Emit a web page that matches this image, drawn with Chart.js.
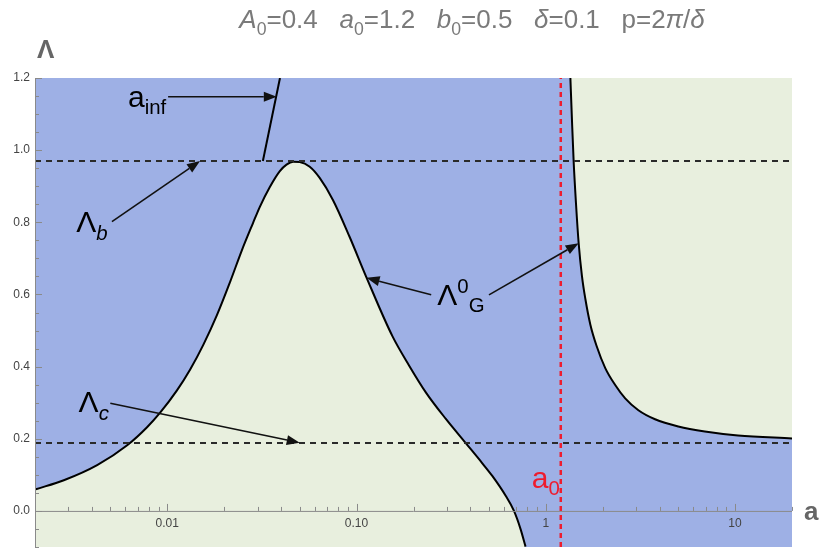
<!DOCTYPE html>
<html>
<head>
<meta charset="utf-8">
<script src="https://cdn.jsdelivr.net/npm/chart.js@4.4.0/dist/chart.umd.min.js"></script>
<style>
  html, body { margin: 0; padding: 0; background: #fff; }
  #wrap { width: 819px; height: 552px; }
</style>
</head>
<body>
<div id="wrap"><canvas id="chart" width="819" height="552"></canvas></div>
<script>
// lower branch of Lambda^0_G (a, Lambda)
const leftA = [0.00202, 0.00284, 0.00426, 0.00614, 0.00782, 0.00919, 0.01125, 0.01321, 0.01552, 0.01827, 0.02148,
  0.02472, 0.02838, 0.03084, 0.03483, 0.03933, 0.04266, 0.04624, 0.05012, 0.05659, 0.06388, 0.07503, 0.09186,
  0.1125, 0.1552, 0.1901, 0.2328, 0.2965, 0.3777, 0.4621, 0.5217, 0.6138, 0.6792, 0.7365, 0.7818];
const leftL = [0.060, 0.085, 0.127, 0.182, 0.232, 0.273, 0.334, 0.392, 0.461, 0.542, 0.635,
  0.721, 0.798, 0.843, 0.898, 0.942, 0.960, 0.968, 0.967, 0.954, 0.923, 0.862, 0.760,
  0.649, 0.483, 0.402, 0.328, 0.255, 0.188, 0.132, 0.097, 0.042, 0.000, -0.051, -0.099];
// upper branch of Lambda^0_G
const rightA = [1.349, 1.375, 1.404, 1.444, 1.492, 1.553, 1.618, 1.719, 1.862, 2.062, 2.327, 2.628, 3.086,
  3.779, 5.012, 6.927, 10.37, 20];
const rightL = [1.2, 1.084, 0.968, 0.853, 0.742, 0.651, 0.588, 0.517, 0.455, 0.396, 0.349, 0.312, 0.279,
  0.254, 0.234, 0.220, 0.209, 0.201];
// a_inf segment
const infA = [0.032, 0.0394];
const infL = [0.97, 1.2];

const lambdaB = 0.97;
const lambdaC = 0.188;
const a0 = 1.2;

const xRange = [0.002, 20];
const yRange = [-0.1, 1.2];
const xMajor = [0.01, 0.1, 1, 10];
const xMajorLabels = ['0.01', '0.10', '1', '10'];
const yMajor = [0, 0.2, 0.4, 0.6, 0.8, 1.0, 1.2];
const yMajorLabels = ['0.0', '0.2', '0.4', '0.6', '0.8', '1.0', '1.2'];

const BLUE = '#9eb0e5';
const GREEN = '#e8efde';
const FONT = '"Liberation Sans", Arial, sans-serif';

const pts = (xs, ys) => xs.map((x, i) => ({ x: x, y: ys[i] }));

// rich text runs: {t, i: italic, sub, sup}
function richWidth(ctx, runs, size) {
  let w = 0;
  for (const r of runs) {
    const s = (r.sub || r.sup) ? size * 0.68 : size;
    ctx.font = (r.i ? 'italic ' : '') + s + 'px ' + FONT;
    w += ctx.measureText(r.t).width;
  }
  return w;
}
function richText(ctx, x, y, runs, size, color) {
  ctx.save();
  ctx.fillStyle = color;
  ctx.textAlign = 'left';
  ctx.textBaseline = 'alphabetic';
  let cx = x;
  for (const r of runs) {
    const s = (r.sub || r.sup) ? size * 0.68 : size;
    const dy = r.sub ? size * 0.25 : r.sup ? -size * 0.4 : 0;
    ctx.font = (r.i ? 'italic ' : '') + s + 'px ' + FONT;
    ctx.fillText(r.t, cx, y + dy);
    cx += ctx.measureText(r.t).width;
  }
  ctx.restore();
}

function arrow(ctx, x1, y1, x2, y2) {
  const ang = Math.atan2(y2 - y1, x2 - x1);
  const len = 13, half = 5;
  const bx = x2 - len * Math.cos(ang), by = y2 - len * Math.sin(ang);
  ctx.save();
  ctx.strokeStyle = '#111';
  ctx.fillStyle = '#111';
  ctx.lineWidth = 1.6;
  ctx.beginPath();
  ctx.moveTo(x1, y1);
  ctx.lineTo(bx, by);
  ctx.stroke();
  ctx.beginPath();
  ctx.moveTo(x2, y2);
  ctx.lineTo(bx - half * Math.sin(ang), by + half * Math.cos(ang));
  ctx.lineTo(bx + half * Math.sin(ang), by - half * Math.cos(ang));
  ctx.closePath();
  ctx.fill();
  ctx.restore();
}

// labels and arrows placed in data coordinates
const notes = [
  { runs: [{ t: 'a' }, { t: 'inf', sub: true }], at: [0.0062, 1.12], from: [0.0101, 1.148], to: [0.0379, 1.148] },
  { runs: [{ t: 'Λ' }, { t: 'b', i: true, sub: true }], at: [0.0033, 0.773], from: [0.0051, 0.802], to: [0.0149, 0.970] },
  { runs: [{ t: 'Λ' }, { t: 'c', i: true, sub: true }], at: [0.0034, 0.274], from: [0.0050, 0.2985], to: [0.0501, 0.189] },
  { runs: [{ t: 'Λ' }, { t: '0', sup: true }, { t: 'G', sub: true }], at: [0.267, 0.571], from: [0.248, 0.599], to: [0.113, 0.646] },
  { runs: [], at: [0.5, 0.599], from: [0.501, 0.599], to: [1.492, 0.742] }
];

const decor = {
  id: 'decor',
  beforeDraw(chart) {
    const { ctx, chartArea: a } = chart;
    ctx.save();
    ctx.fillStyle = '#fff';
    ctx.fillRect(0, 0, chart.width, chart.height);
    ctx.fillStyle = BLUE;
    ctx.fillRect(a.left, a.top, a.right - a.left, a.bottom - a.top);
    ctx.restore();
  },
  afterDatasetsDraw(chart) {
    const { ctx, chartArea: a } = chart;
    const xs = chart.scales.x, ys = chart.scales.y;
    const y0 = ys.getPixelForValue(0);

    ctx.save();
    ctx.strokeStyle = '#8a8a8a';
    ctx.lineWidth = 1;
    // axis lines
    ctx.beginPath();
    ctx.moveTo(a.left, y0 + 0.5);
    ctx.lineTo(a.right, y0 + 0.5);
    ctx.moveTo(a.left + 0.5, a.top);
    ctx.lineTo(a.left + 0.5, a.bottom);
    ctx.stroke();

    // x ticks: decades and 2..9 minors
    ctx.beginPath();
    for (let d = 0.001; d <= 10; d *= 10) {
      for (let k = 1; k <= 9; k++) {
        const v = d * k;
        if (v < xRange[0] || v > xRange[1]) continue;
        const px = Math.round(xs.getPixelForValue(v)) + 0.5;
        const len = k === 1 ? 7 : 4;
        ctx.moveTo(px, y0);
        ctx.lineTo(px, y0 - len);
      }
    }
    // y ticks every 0.05, majors every 0.2
    for (let i = -2; i <= 24; i++) {
      const v = i * 0.05;
      const py = Math.round(ys.getPixelForValue(v)) + 0.5;
      const len = i % 4 === 0 ? 7 : 4;
      ctx.moveTo(a.left, py);
      ctx.lineTo(a.left + len, py);
    }
    ctx.stroke();

    ctx.fillStyle = '#444';
    ctx.font = '12px ' + FONT;
    ctx.textAlign = 'center';
    ctx.textBaseline = 'middle';
    xMajor.forEach((v, i) => ctx.fillText(xMajorLabels[i], xs.getPixelForValue(v), y0 + 13));
    ctx.textAlign = 'right';
    yMajor.forEach((v, i) => ctx.fillText(yMajorLabels[i], a.left - 5, ys.getPixelForValue(v)));

    // axis names
    ctx.fillStyle = '#666';
    ctx.font = 'bold 26px ' + FONT;
    ctx.textAlign = 'left';
    ctx.textBaseline = 'alphabetic';
    ctx.fillText('Λ', a.left + 2, 58);
    ctx.fillText('a', a.right + 12, y0 + 9);
    ctx.restore();

    // annotations
    for (const n of notes) {
      arrow(ctx, xs.getPixelForValue(n.from[0]), ys.getPixelForValue(n.from[1]),
        xs.getPixelForValue(n.to[0]), ys.getPixelForValue(n.to[1]));
      if (n.runs.length) {
        richText(ctx, xs.getPixelForValue(n.at[0]), ys.getPixelForValue(n.at[1]), n.runs, 30, '#000');
      }
    }
    richText(ctx, xs.getPixelForValue(0.844), ys.getPixelForValue(0.064),
      [{ t: 'a' }, { t: '0', sub: true }], 30, '#ee1c2e');

    // title
    const title = [
      { t: 'A', i: true }, { t: '0', sub: true }, { t: '=0.4   ' },
      { t: 'a', i: true }, { t: '0', sub: true }, { t: '=1.2   ' },
      { t: 'b', i: true }, { t: '0', sub: true }, { t: '=0.5   ' },
      { t: 'δ', i: true }, { t: '=0.1   p=2' }, { t: 'π', i: true }, { t: '/' }, { t: 'δ', i: true }
    ];
    const w = richWidth(ctx, title, 26);
    richText(ctx, 472 - w / 2, 28, title, 26, '#7a7a7a');
  }
};

new Chart(document.getElementById('chart'), {
  type: 'scatter',
  data: {
    datasets: [
      { data: pts([a0, a0], yRange), borderColor: '#ee1c2e', borderWidth: 2.5, borderDash: [5, 4], showLine: true, pointRadius: 0, order: 0 },
      { data: pts(xRange, [lambdaB, lambdaB]), borderColor: '#2a2a2a', borderWidth: 2, borderDash: [6, 5], showLine: true, pointRadius: 0, order: 1 },
      { data: pts(xRange, [lambdaC, lambdaC]), borderColor: '#2a2a2a', borderWidth: 2, borderDash: [6, 5], showLine: true, pointRadius: 0, order: 1 },
      { data: pts(infA, infL), borderColor: '#000', borderWidth: 2, showLine: true, pointRadius: 0, order: 2 },
      { data: pts(leftA, leftL), borderColor: '#000', borderWidth: 2, showLine: true, pointRadius: 0,
        cubicInterpolationMode: 'monotone', fill: 'start', backgroundColor: GREEN, order: 3 },
      { data: pts(rightA, rightL), borderColor: '#000', borderWidth: 2, showLine: true, pointRadius: 0,
        cubicInterpolationMode: 'monotone', fill: 'end', backgroundColor: GREEN, order: 3 }
    ]
  },
  options: {
    responsive: false,
    animation: false,
    layout: { padding: { left: 35, top: 78, right: 27, bottom: 5 } },
    plugins: { legend: { display: false }, tooltip: { enabled: false } },
    scales: {
      x: { type: 'logarithmic', min: xRange[0], max: xRange[1], display: false },
      y: { type: 'linear', min: yRange[0], max: yRange[1], display: false }
    }
  },
  plugins: [decor]
});
</script>
</body>
</html>
